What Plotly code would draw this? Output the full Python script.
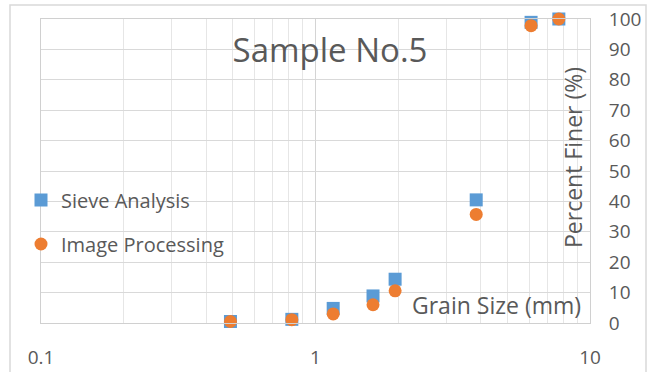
import plotly.graph_objects as go

grain_size = [0.49, 0.82, 1.16, 1.62, 1.95, 3.85, 6.1, 7.7]
sieve_analysis = [0.5, 1.2, 4.8, 8.9, 14.4, 40.5, 98.9, 100.0]
image_processing = [0.5, 1.1, 3.0, 6.0, 10.6, 35.7, 97.8, 100.0]

x_major = [0.1, 1, 10]
x_minor = [0.2, 0.3, 0.4, 0.5, 0.6, 0.7, 0.8, 0.9, 2, 3, 4, 5, 6, 7, 8, 9]
y_ticks = list(range(0, 101, 10))

FONT = "Open Sans"
GRAY = "#595959"

fig = go.Figure()
fig.add_trace(go.Scatter(
    x=grain_size, y=sieve_analysis, mode="markers", name="Sieve Analysis",
    legendgroup="a",
    marker=dict(symbol="square", size=13, color="#5B9BD5"), cliponaxis=False))
fig.add_trace(go.Scatter(
    x=grain_size, y=image_processing, mode="markers", name="Image Processing",
    legendgroup="b",
    marker=dict(symbol="circle", size=13, color="#ED7D31"), cliponaxis=False))

L, R, T, B = 41, 60, 19, 49
W, H = 650, 372
pw, ph = W - L - R, H - T - B

def px(x):
    return (x - L) / pw

def py(y):
    return (H - B - y) / ph

fig.update_layout(
    width=W, height=H,
    margin=dict(l=L, r=R, t=T, b=B, autoexpand=False),
    paper_bgcolor="white", plot_bgcolor="white",
    font=dict(family=FONT, color=GRAY, size=19),
    title=dict(text="Sample No.5", x=330 / W, y=1 - 50 / H, xref="container",
               yref="container", xanchor="center", yanchor="middle",
               font=dict(family=FONT, size=33, color=GRAY)),
    showlegend=True,
    legend=dict(x=px(21), y=py(222), xanchor="left", yanchor="middle",
                bgcolor="rgba(0,0,0,0)", font=dict(size=20, color=GRAY),
                tracegroupgap=15, itemwidth=30),
    xaxis=dict(type="log", range=[-1, 1], tickvals=x_major,
               ticktext=["0.1", "1", "10"], automargin=False,
               showgrid=True, gridcolor="#d4d4d4", gridwidth=1,
               minor=dict(tickvals=x_minor, showgrid=True, gridcolor="#e6e6e6"),
               showline=True, linecolor="#d0d0d0", mirror=True,
               ticks="", ticklabelstandoff=17, zeroline=False,
               tickfont=dict(size=19, color=GRAY)),
    yaxis=dict(range=[0, 100], tickvals=y_ticks, side="right", automargin=False,
               showgrid=True, gridcolor="#d9d9d9", gridwidth=1,
               showline=True, linecolor="#d0d0d0", mirror=True,
               ticks="", ticklabelstandoff=14, zeroline=False,
               tickfont=dict(size=19, color=GRAY)),
    annotations=[
        dict(text="Grain Size (mm)", xref="paper", yref="paper",
             x=px(583), y=py(305), xanchor="right", yanchor="middle",
             showarrow=False, font=dict(size=23, color=GRAY, family=FONT)),
        dict(text="Percent Finer (%)", xref="paper", yref="paper",
             x=px(573), y=py(158), xanchor="center", yanchor="middle",
             textangle=-90, showarrow=False,
             font=dict(size=23, color=GRAY, family=FONT)),
    ],
    shapes=[
        dict(type="rect", xref="paper", yref="paper",
             x0=px(10), x1=px(646), y0=py(376), y1=py(5),
             line=dict(color="#d9d9d9", width=1.5), layer="below"),
    ],
)

fig.write_html("out.html")
